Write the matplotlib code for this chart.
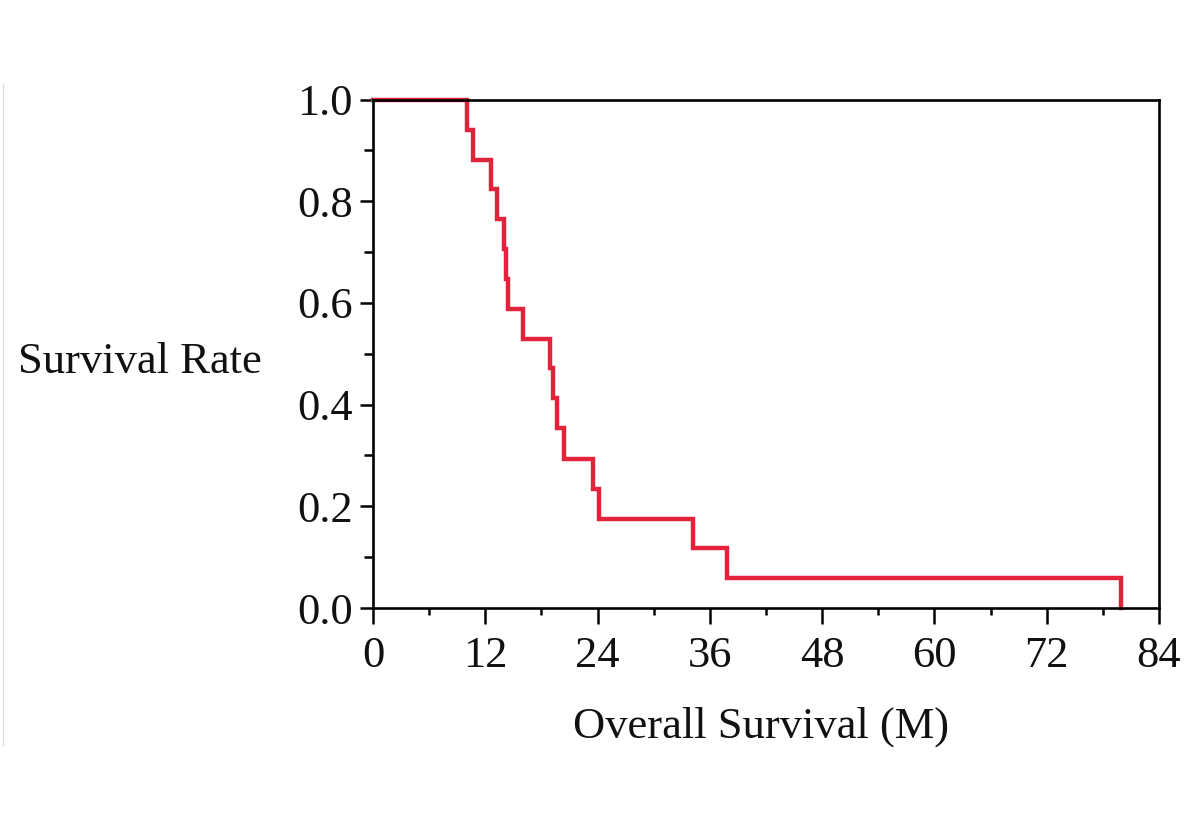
import matplotlib
matplotlib.use("Agg")
import matplotlib.pyplot as plt
from matplotlib.lines import Line2D
from matplotlib.ticker import MultipleLocator

plt.rcParams['font.family'] = ['Liberation Serif', 'DejaVu Serif']

# Kaplan-Meier steps (months, survival rate)
months = [0.0, 10.0, 10.7, 12.6, 13.2, 14.0, 14.2, 14.4, 16.0, 18.9, 19.2,
          19.7, 20.4, 23.5, 24.2, 34.2, 37.8, 79.9]
survival = [1.0, 0.941, 0.882, 0.824, 0.765, 0.706, 0.647, 0.588, 0.529,
            0.471, 0.412, 0.353, 0.294, 0.235, 0.176, 0.118, 0.059, 0.0]

x_ticks = [0, 12, 24, 36, 48, 60, 72, 84]
y_ticks = [0.0, 0.2, 0.4, 0.6, 0.8, 1.0]

fig = plt.figure(figsize=(12, 8.31), dpi=100)
ax = fig.add_axes([373 / 1200, 1 - 608 / 831, (1159 - 373) / 1200, (608 - 99.5) / 831])

ax.step(months, survival, where='post', color='#e4223c', lw=3.2,
        solid_joinstyle='miter', clip_on=False, zorder=2)

ax.set_xlim(0, 84)
ax.set_ylim(0, 1.0)
ax.set_xticks(x_ticks)
ax.set_yticks(y_ticks)
ax.set_yticklabels([f"{v:.1f}" for v in y_ticks])
ax.xaxis.set_minor_locator(MultipleLocator(6))
ax.yaxis.set_minor_locator(MultipleLocator(0.1))

ax.tick_params(axis='both', which='major', direction='out', width=1.8,
               color='black', labelsize=32, labelcolor='#111111')
ax.tick_params(axis='x', which='major', length=11.5, pad=9)
ax.tick_params(axis='y', which='major', length=9.5, pad=5)
ax.tick_params(axis='x', which='minor', direction='out', length=5, width=1.8)
ax.tick_params(axis='y', which='minor', direction='out', length=6.5, width=1.8)

for sp in ax.spines.values():
    sp.set_linewidth(1.9)
    sp.set_color('black')

fig.text(18 / 1200, 1 - 362 / 831, "Survival Rate", fontsize=32,
         ha='left', va='center', color='#111111')
fig.text(761 / 1200, 1 - 727 / 831, "Overall Survival (M)", fontsize=32,
         ha='center', va='center', color='#111111')

# faint frame line at the left edge of the original scan
fig.add_artist(Line2D([3 / 1200, 3 / 1200], [1 - 745 / 831, 1 - 85 / 831],
                      transform=fig.transFigure, color='#dddddd', lw=1))

fig.savefig("out.png", dpi=100, facecolor='white')
